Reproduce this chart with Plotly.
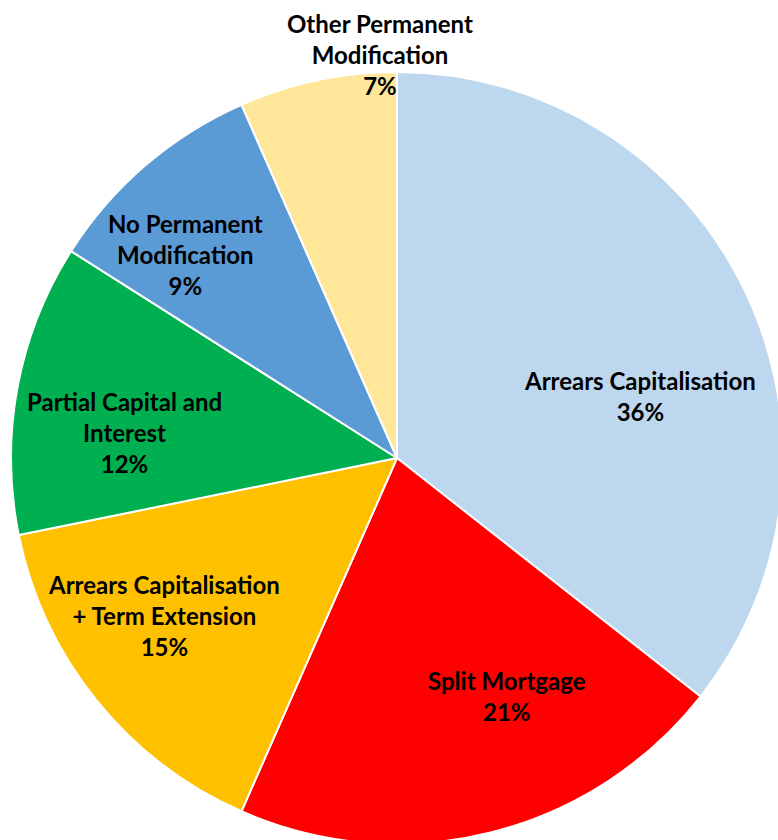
import math
import plotly.graph_objects as go

# figure canvas slightly larger than the window (the reference pie is cropped at right/bottom)
W, H = 790, 850

labels = ["Arrears Capitalisation", "Split Mortgage",
          "Arrears Capitalisation<br>+ Term Extension",
          "Partial Capital and<br>Interest",
          "No Permanent<br>Modification",
          "Other Permanent<br>Modification"]
values = [35.6, 21.0, 15.2, 12.2, 9.4, 6.6]
colors = ["#BDD7EE", "#FF0000", "#FFC000", "#00B050", "#5B9BD5", "#FFE699"]

# label placement style: (angle offset from slice middle in degrees, radius fraction)
label_style = [(11.6, 0.65), (-10.7, 0.68), (4.8, 0.73), (-5.0, 0.71), (-5.5, 0.76), (9.5, 1.045)]

# pie geometry (pixels)
cx, cy_top, R = 397, 458, 386
dom_x = [(cx - R) / W, (cx + R) / W]
dom_y = [(H - cy_top - R) / H, (H - cy_top + R) / H]

fig = go.Figure(go.Pie(
    labels=labels, values=values, sort=False, direction="clockwise", rotation=0,
    marker=dict(colors=colors, line=dict(color="white", width=2)),
    textinfo="none", hoverinfo="label+percent", showlegend=False,
    domain=dict(x=dom_x, y=dom_y),
))

total = sum(values)
cum = 0
annotations = []
for lab, v, (off, frac) in zip(labels, values, label_style):
    mid = (cum + v / 2) / total * 360
    cum += v
    a = math.radians(mid + off)
    px = cx + frac * R * math.sin(a)
    py = cy_top - frac * R * math.cos(a)
    pct = round(v / total * 100)
    annotations.append(dict(
        x=px / W, y=1 - py / H, xref="paper", yref="paper",
        text=f"<b>{lab}<br>{pct}%</b>", showarrow=False,
        font=dict(family="Lato", size=24, color="black"),
        align="center", xanchor="center", yanchor="middle",
    ))

fig.update_layout(
    width=W, height=H, margin=dict(l=0, r=0, t=0, b=0),
    paper_bgcolor="white", plot_bgcolor="white",
    annotations=annotations,
)

fig.write_html("out.html", config={"displayModeBar": False},
               post_script="document.body.style.margin='0';document.body.style.overflow='hidden';")
